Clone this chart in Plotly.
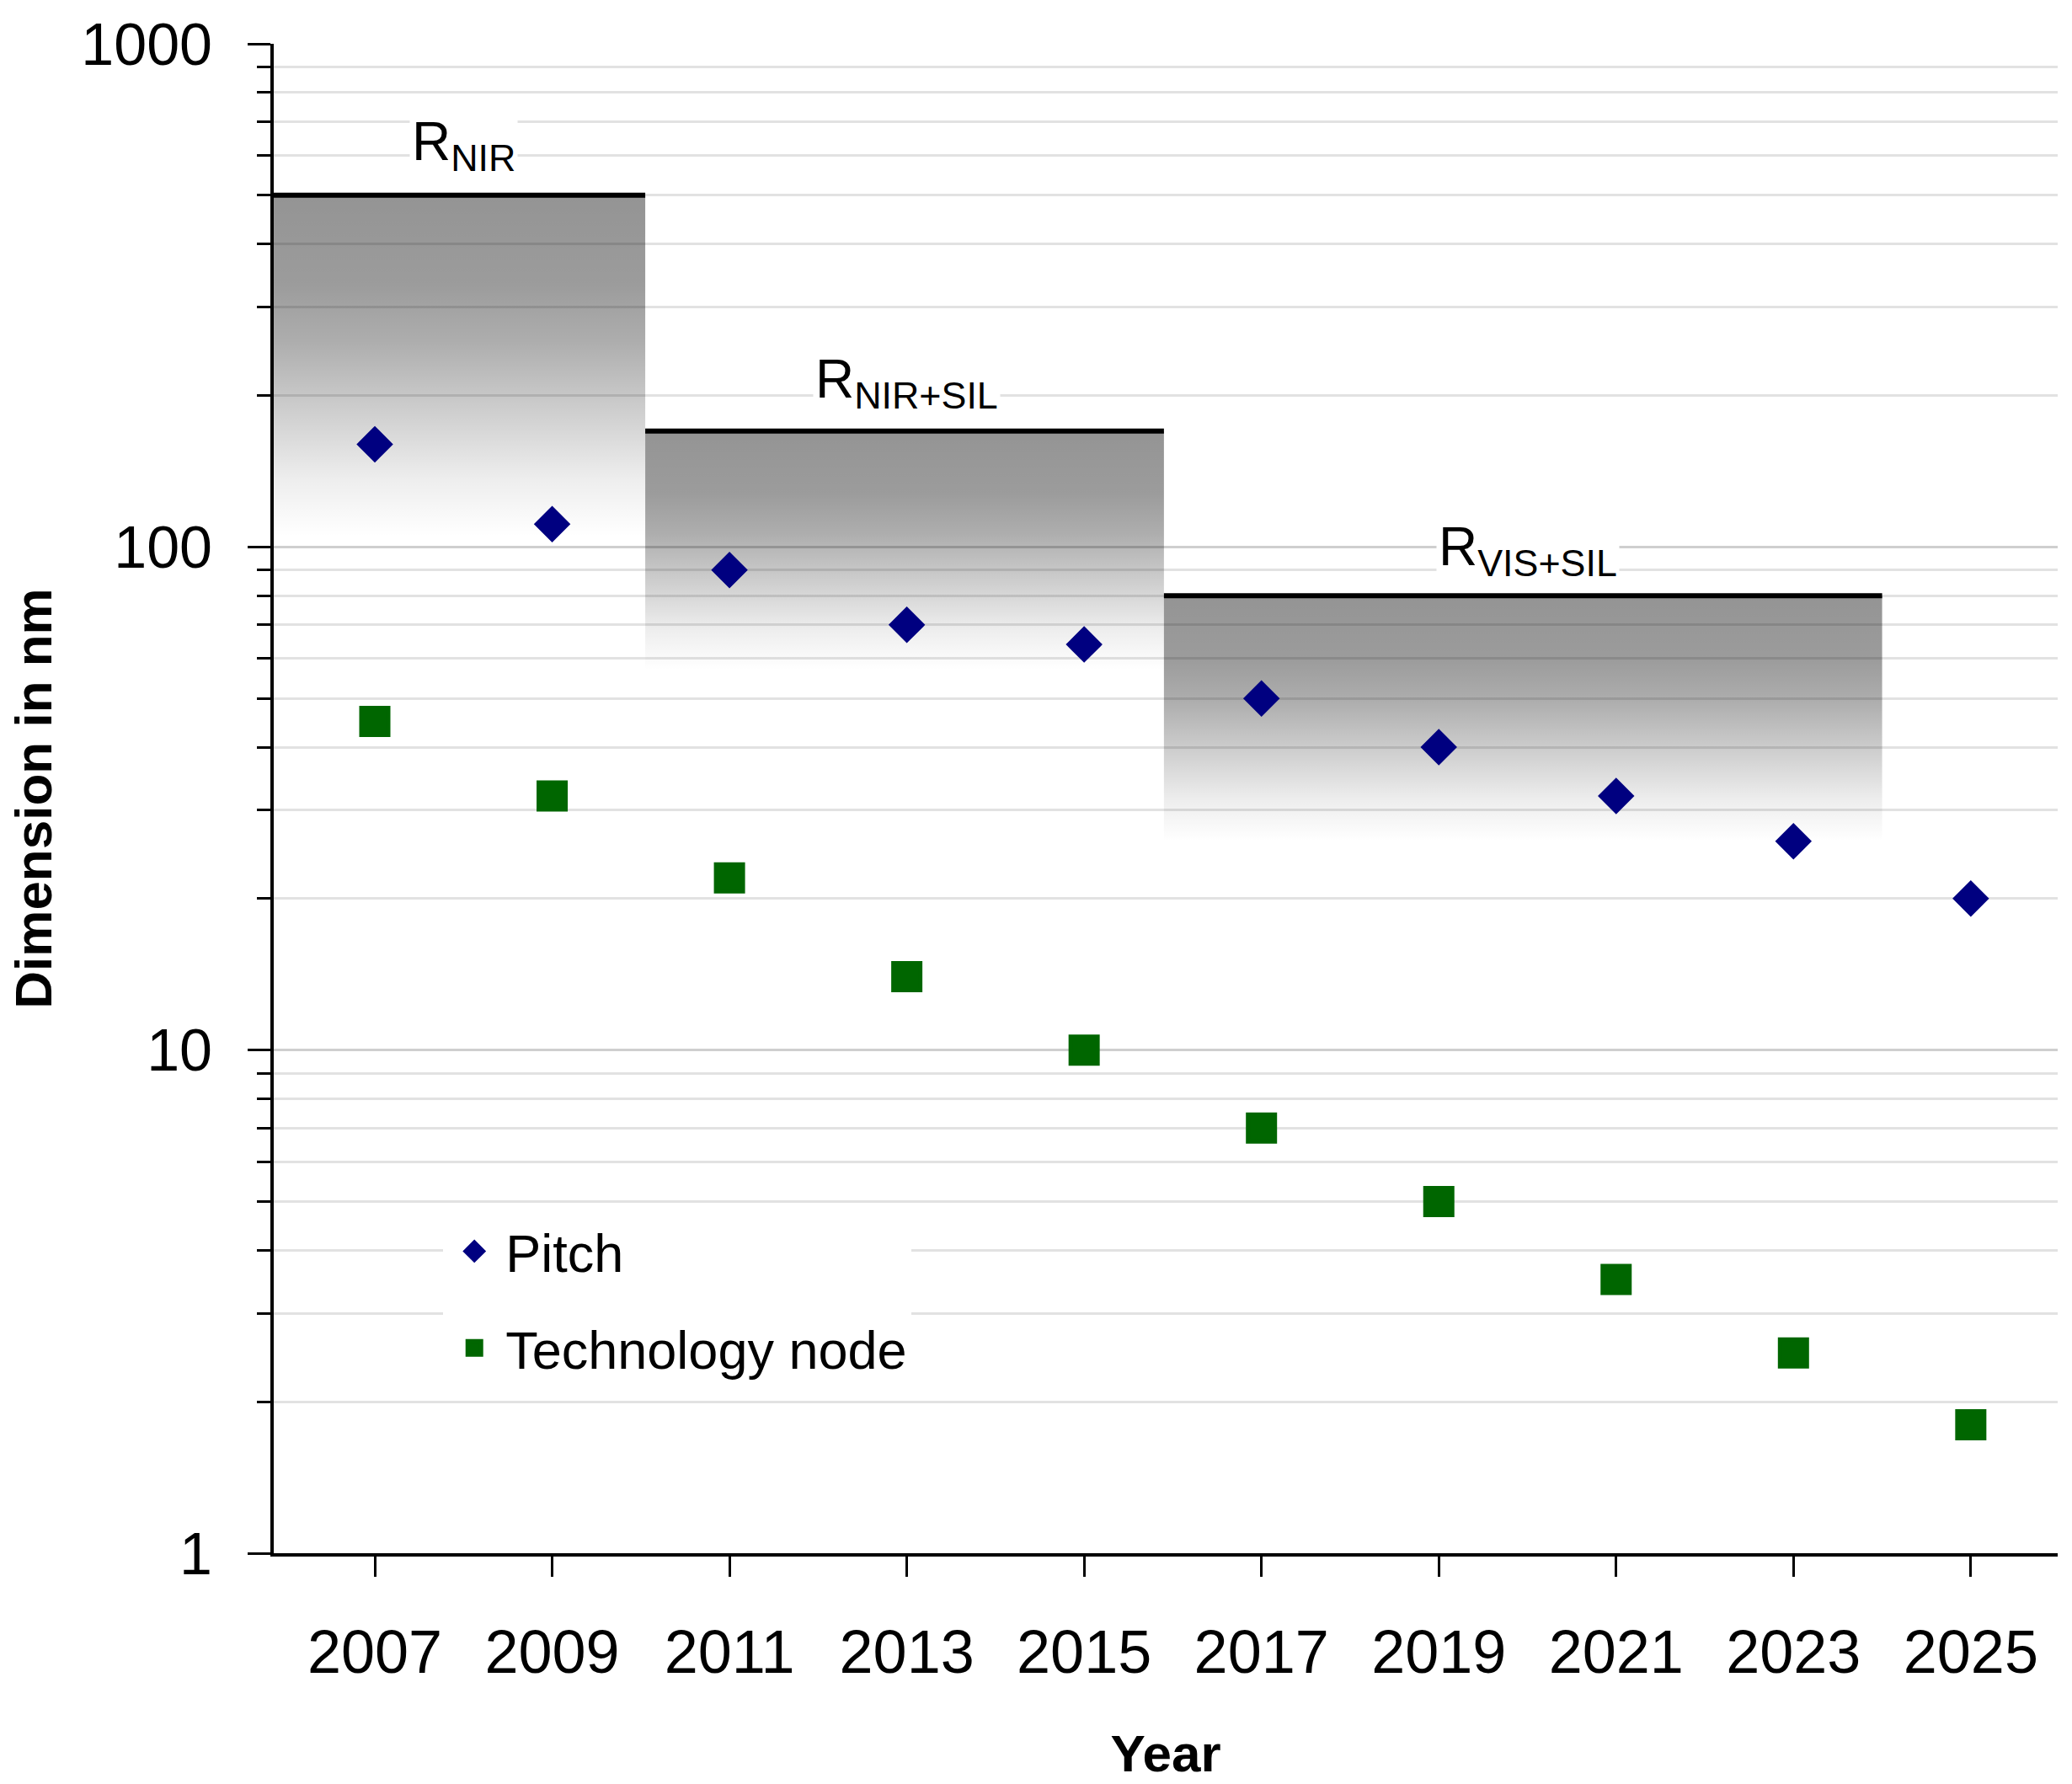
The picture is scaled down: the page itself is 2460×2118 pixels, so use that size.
import math
import plotly.graph_objects as go

# ---------------- data ----------------
years = [2007, 2009, 2011, 2013, 2015, 2017, 2019, 2021, 2023, 2025]
pitch = [160, 111, 90, 70, 64, 50, 40, 32, 26, 20]
tech_node = [45, 32, 22, 14, 10, 7, 5, 3.5, 2.5, 1.8]

band_labels = ["R<sub>NIR</sub>", "R<sub>NIR+SIL</sub>", "R<sub>VIS+SIL</sub>"]
band_start = [2005.86, 2010.05, 2015.9]
band_end = [2010.05, 2015.9, 2024.0]
band_top = [500, 170, 80]
band_fade = [105, 57, 26]
label_x = [2008, 2013, 2020]
label_y = [630, 212, 98.5]

x_ticks = [2007, 2009, 2011, 2013, 2015, 2017, 2019, 2021, 2023, 2025]
y_ticks = [1, 10, 100, 1000]

FONT = "Liberation Sans, Arial, sans-serif"

# vertical gradient: 0 = bottom of band, 1 = top (just below the black line)
grad = [
    [0.0, "rgba(0,0,0,0)"],
    [0.17, "rgba(0,0,0,0.07)"],
    [0.38, "rgba(0,0,0,0.20)"],
    [0.57, "rgba(0,0,0,0.32)"],
    [0.74, "rgba(0,0,0,0.39)"],
    [1.0, "rgba(0,0,0,0.42)"],
]

fig = go.Figure()

for i in range(len(band_top)):
    x0, x1 = band_start[i], band_end[i]
    fig.add_trace(go.Scatter(
        x=[x0, x1, x1, x0, x0],
        y=[band_fade[i], band_fade[i], band_top[i], band_top[i], band_fade[i]],
        mode="lines", line=dict(width=0), fill="toself",
        fillgradient=dict(type="vertical", colorscale=grad),
        showlegend=False, hoverinfo="skip"))
    fig.add_trace(go.Scatter(
        x=[x0, x1], y=[band_top[i], band_top[i]],
        mode="lines", line=dict(color="black", width=6),
        showlegend=False, hoverinfo="skip"))

fig.add_trace(go.Scatter(
    x=years, y=pitch, mode="markers", name="Pitch", legendgroup="a",
    marker=dict(symbol="diamond", size=28, color="#000080",
                line=dict(color="#000080", width=5))))
fig.add_trace(go.Scatter(
    x=years, y=tech_node, mode="markers", name="Technology node", legendgroup="b",
    marker=dict(symbol="square", size=32, color="#006600",
                line=dict(color="#006600", width=5))))

for i in range(len(band_labels)):
    fig.add_annotation(
        x=label_x[i], y=math.log10(label_y[i]), xref="x", yref="y",
        text=band_labels[i], showarrow=False, bgcolor="white", borderpad=2,
        font=dict(family=FONT, size=64, color="black"),
        xanchor="center", yanchor="middle")

fig.update_layout(
    width=2460, height=2118,
    margin=dict(l=325, r=17, t=52, b=274),
    paper_bgcolor="white", plot_bgcolor="white",
    font=dict(family=FONT, color="black"),
    showlegend=True,
    legend=dict(
        x=0.095, y=0.168, xanchor="left", yanchor="middle",
        bgcolor="white", borderwidth=0,
        font=dict(family=FONT, size=63, color="black"),
        tracegroupgap=30, itemsizing="trace", itemwidth=64),
)

fig.update_xaxes(
    range=[2005.86, 2025.98], tickmode="array", tickvals=x_ticks,
    ticktext=[str(v) for v in x_ticks],
    showgrid=False, zeroline=False,
    showline=True, linecolor="black", linewidth=4,
    ticks="outside", ticklen=24, tickwidth=3, tickcolor="black",
    tickfont=dict(family=FONT, size=72, color="black"),
    ticklabelstandoff=28,
    title=dict(text="<b>Year</b>", font=dict(family=FONT, size=62, color="black"), standoff=60),
)

fig.update_yaxes(
    type="log", range=[0, 3], tickmode="array", tickvals=y_ticks,
    ticktext=[str(v) for v in y_ticks],
    showgrid=True, gridcolor="#cfcfcf", gridwidth=2.5,
    zeroline=False,
    showline=True, linecolor="black", linewidth=4,
    ticks="outside", ticklen=27, tickwidth=3, tickcolor="black",
    tickfont=dict(family=FONT, size=70, color="black"),
    ticklabelstandoff=28,
    minor=dict(dtick="D1", ticks="outside", ticklen=16, tickwidth=3, tickcolor="black",
               showgrid=True, gridcolor="#e2e2e2", gridwidth=2.5),
    title=dict(text="<b>Dimension in nm</b>", font=dict(family=FONT, size=62, color="black"), standoff=16),
)

fig.write_html("out.html")
